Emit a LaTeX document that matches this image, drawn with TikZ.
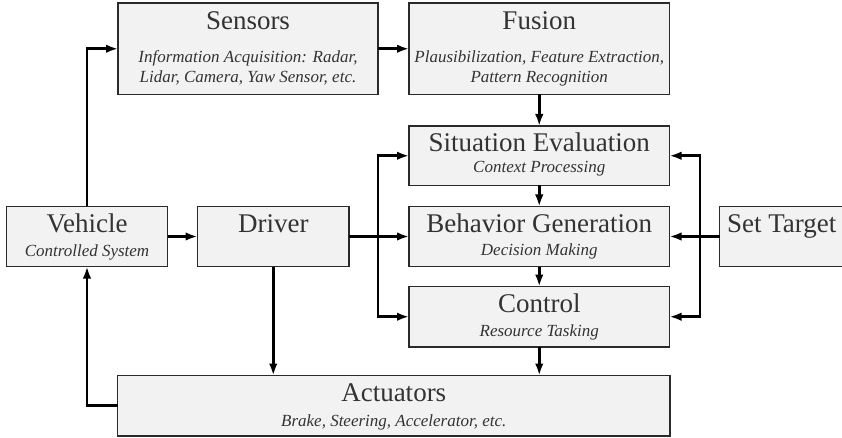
\documentclass[tikz,border=0pt]{standalone}
\usepackage{fontspec}
\setmainfont{Liberation Serif}
\usetikzlibrary{arrows.meta,calc}

\definecolor{boxfill}{HTML}{F2F2F2}
\definecolor{boxline}{HTML}{2A2A2A}
\definecolor{txt}{HTML}{333333}

\tikzset{
  block/.style={draw=boxline, fill=boxfill, line width=1.2pt, rectangle,
    inner sep=0pt, outer sep=0pt},
  ttl/.style={anchor=base, inner sep=0pt, text=txt,
    font=\fontsize{27}{32}\selectfont},
  sub/.style={anchor=base, inner sep=0pt, text=txt, align=center,
    font=\fontsize{17}{20}\selectfont\itshape},
  arr/.style={line width=2.7pt, -{Latex[length=12pt,width=8.5pt]}}
}

\begin{document}
\begin{tikzpicture}[x=1pt,y=-1pt]
\useasboundingbox (0,0) rectangle (842,438);
\clip (0,0) rectangle (842,438);

% boxes
\node[block, minimum width=260pt, minimum height=91.5pt] (sens) at (248,48.75) {};
\node[block, minimum width=260.5pt, minimum height=91.5pt] (fus) at (539.25,48.75) {};
\node[block, minimum width=260.5pt, minimum height=59.5pt] (sit) at (539.25,155.75) {};
\node[block, minimum width=260.5pt, minimum height=60pt] (beh) at (539.25,236.5) {};
\node[block, minimum width=260.5pt, minimum height=60.5pt] (ctl) at (539.25,316.75) {};
\node[block, minimum width=552.5pt, minimum height=60.5pt] (act) at (393.75,405.75) {};
\node[block, minimum width=161pt, minimum height=60pt] (veh) at (87,236.5) {};
\node[block, minimum width=151.5pt, minimum height=60pt] (drv) at (273.25,236.5) {};
\node[block, minimum width=124.5pt, minimum height=60pt] (set) at (781.75,236.5) {};

% titles (baseline measured from the top edge of each box)
\node[ttl] (sens-t) at ([yshift=-27pt]sens.north) {Sensors};
\node[ttl] (fus-t) at ([yshift=-27pt]fus.north) {Fusion};
\node[ttl] (sit-t) at ([yshift=-26pt]sit.north) {Situation Evaluation};
\node[ttl] (beh-t) at ([yshift=-26.5pt]beh.north) {Behavior Generation};
\node[ttl] (ctl-t) at ([yshift=-25.5pt]ctl.north) {Control};
\node[ttl] (act-t) at ([yshift=-26pt]act.north) {Actuators};
\node[ttl] (veh-t) at ([yshift=-26pt]veh.north) {Vehicle};
\node[ttl] (drv-t) at ([yshift=-26.5pt]drv.north) {Driver};
\node[ttl] (set-t) at ([yshift=-26pt]set.north) {Set Target};

% subtitles (two-line ones are anchored at the baseline of their last line)
\node[sub] (sens-s) at ([yshift=-80pt]sens.north) {Information Acquisition: Radar,\\Lidar, Camera, Yaw Sensor, etc.};
\node[sub] (fus-s) at ([yshift=-80pt]fus.north) {Plausibilization, Feature Extraction,\\Pattern Recognition};
\node[sub] (sit-s) at ([yshift=-47pt]sit.north) {Context Processing};
\node[sub] (beh-s) at ([yshift=-48.5pt]beh.north) {Decision Making};
\node[sub] (ctl-s) at ([yshift=-50pt]ctl.north) {Resource Tasking};
\node[sub] (act-s) at ([yshift=-51pt]act.north) {Brake, Steering, Accelerator, etc.};
\node[sub] (veh-s) at ([yshift=-49.5pt]veh.north) {Controlled System};

% junction points on the two feeder lines
\coordinate (jl) at (378,236.5);
\coordinate (jr) at (700,236.5);

% connectors
\draw[arr] (veh.north) |- (sens.west);
\draw[arr] (sens.east) -- (fus.west);
\draw[arr] (fus.south) -- (sit.north);
\draw[arr] (sit.south) -- (beh.north);
\draw[arr] (beh.south) -- (ctl.north);
\draw[arr] (ctl.south) -- (ctl.south |- act.north);
\draw[arr] (veh.east) -- (drv.west);
\draw[arr] (drv.east) -- (beh.west);
\draw[arr] (jl) |- (sit.west);
\draw[arr] (jl) |- (ctl.west);
\draw[arr] (set.west) -- (beh.east);
\draw[arr] (jr) |- (sit.east);
\draw[arr] (jr) |- (ctl.east);
\draw[arr] (drv.south) -- (drv.south |- act.north);
\draw[arr] (act.west) -| (veh.south);
\end{tikzpicture}
\end{document}
